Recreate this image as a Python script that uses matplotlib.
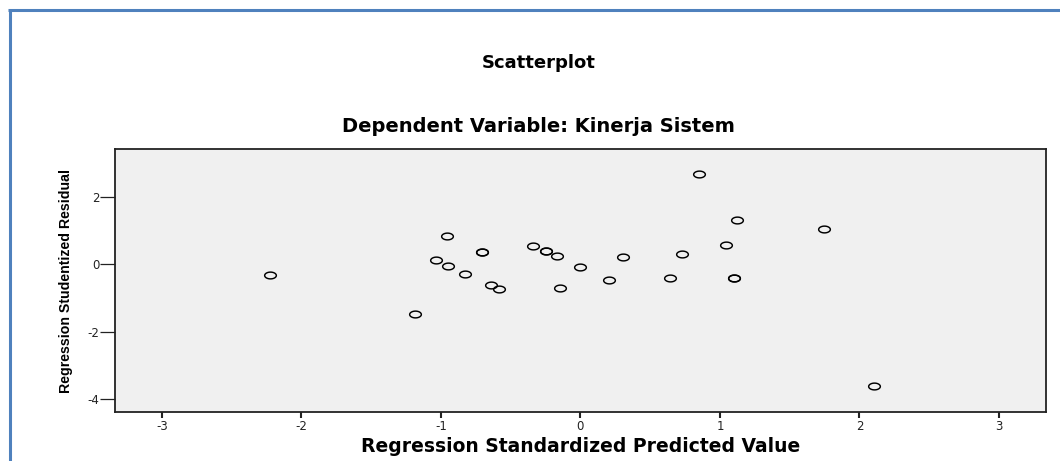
import numpy as np
import matplotlib
matplotlib.use("Agg")
import matplotlib.pyplot as plt
from matplotlib.path import Path
from matplotlib.lines import Line2D

# ---- data ----
x_pred = [-2.222, -1.185, -1.037, -0.953, -0.948, -0.824, -0.703, -0.703, -0.642,
          -0.583, -0.337, -0.250, -0.250, -0.165, -0.146, 0.000, 0.208, 0.308,
          0.645, 0.729, 0.851, 1.042, 1.104, 1.104, 1.123, 1.749, 2.105]
y_resid = [-0.31, -1.47, 0.12, 0.84, -0.05, -0.29, 0.365, 0.365, -0.62,
           -0.73, 0.54, 0.38, 0.38, 0.24, -0.71, -0.09, -0.47, 0.22,
           -0.42, 0.30, 2.67, 0.57, -0.42, -0.42, 1.31, 1.05, -3.60]
x_ticks = [-3, -2, -1, 0, 1, 2, 3]
y_ticks = [-4, -2, 0, 2]
title_main = "Scatterplot"
title_sub = "Dependent Variable: Kinerja Sistem"
x_label = "Regression Standardized Predicted Value"
y_label = "Regression Studentized Residual"

W, H = 1060, 461
fig = plt.figure(figsize=(W / 100, H / 100), dpi=100)
fig.patch.set_facecolor("white")

# axes placement (pixels measured from reference)
L, R, T, B = 115, 1046, 149.3, 411.7
ax = fig.add_axes([L / W, 1 - B / H, (R - L) / W, (B - T) / H])
ax.set_facecolor("#f0f0f0")
for s in ax.spines.values():
    s.set_color("#222222")
    s.set_linewidth(1.3)

# elliptical open marker (reference is horizontally stretched)
t = np.linspace(0, 2 * np.pi, 60)
ell = Path(np.column_stack([np.cos(t), 0.58 * np.sin(t)]), closed=True)
ax.plot(x_pred, y_resid, linestyle="none", marker=ell, markersize=8.4,
        markerfacecolor="none", markeredgecolor="black", markeredgewidth=1.05)

ax.set_xlim(-3.336, 3.337)
ax.set_ylim(-4.37, 3.41)
ax.set_xticks(x_ticks)
ax.set_yticks(y_ticks)
ax.set_xticklabels([f"{v}" for v in x_ticks])
ax.set_yticklabels([f"{v}" for v in y_ticks])
ax.tick_params(axis="x", length=4, width=1.5, pad=2, labelsize=8.5, colors="#222222",
               direction="out")
ax.tick_params(axis="y", length=10.5, width=0.9, pad=0.5, labelsize=8.5, colors="#222222",
               direction="out")
for lab in ax.get_xticklabels() + ax.get_yticklabels():
    lab.set_family("DejaVu Sans")

ax.set_xlabel(x_label, fontsize=13.5, fontweight="bold", family="DejaVu Sans")
ax.xaxis.set_label_coords(0.5, (B - 446) / (B - T))
ax.xaxis.label.set_va("center")
ax.set_ylabel(y_label, fontsize=10.2, fontweight="bold", family="Liberation Sans")
ax.yaxis.set_label_coords((66 - L) / (R - L), 0.5)
ax.yaxis.label.set_va("center")

fig.text(538.5 / W, 1 - 63 / H, title_main, ha="center", va="center",
         fontsize=13, fontweight="bold", family="DejaVu Sans")
fig.text(538.5 / W, 1 - 127 / H, title_sub, ha="center", va="center",
         fontsize=14, fontweight="bold", family="DejaVu Sans")

# blue frame (top and left edges)
ytop = 1 - 9.8 / H
xl = 9.5 / W
fig.add_artist(Line2D([8 / W, 1.0], [ytop, ytop], transform=fig.transFigure,
                      color="#4f81bd", linewidth=2.2, solid_capstyle="butt"))
fig.add_artist(Line2D([xl, xl], [0, ytop + 1.1 / H], transform=fig.transFigure,
                      color="#4f81bd", linewidth=2.2, solid_capstyle="butt"))

fig.savefig("out.png", dpi=100)
